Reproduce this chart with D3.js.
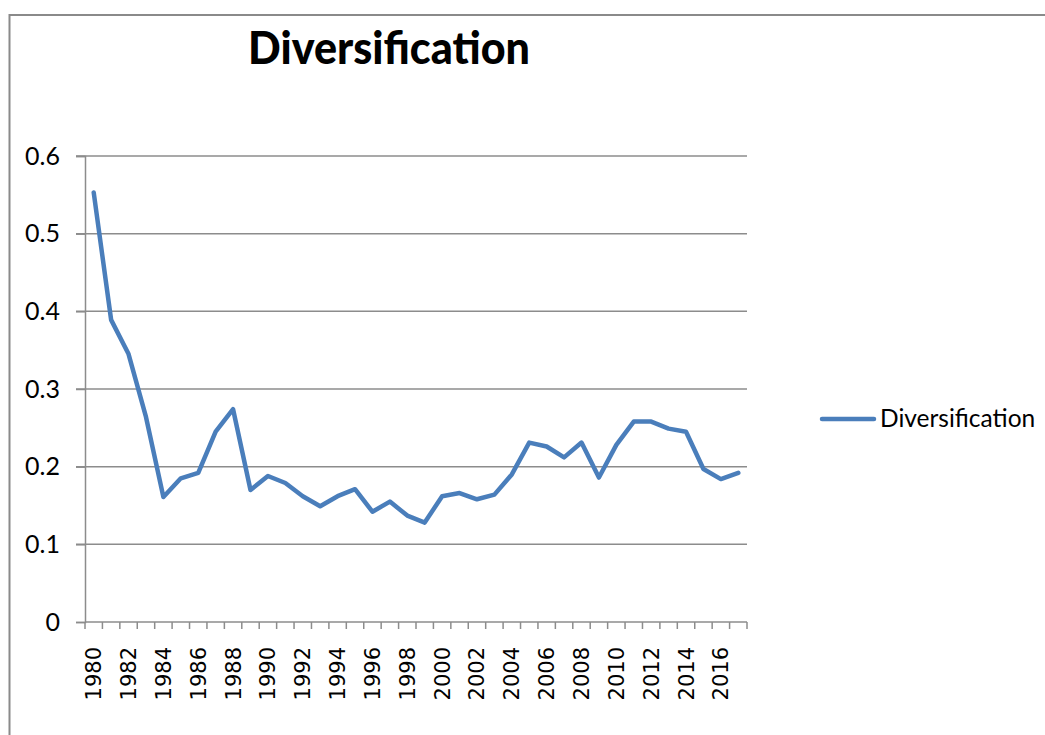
<!DOCTYPE html>
<html>
<head>
<meta charset="utf-8">
<script src="https://cdn.jsdelivr.net/npm/d3@7"></script>
<style>
  body { margin: 0; background: #fff; }
</style>
</head>
<body>
<svg id="chartSvg" width="1045" height="735"></svg>
<script>
const chartSvg = d3.select("#chartSvg");

// data
const years = d3.range(1980, 2018);
const diversification = [0.553, 0.389, 0.345, 0.264, 0.161, 0.185, 0.192, 0.245, 0.274, 0.170,
                         0.188, 0.179, 0.162, 0.149, 0.162, 0.171, 0.142, 0.155, 0.137, 0.128,
                         0.162, 0.166, 0.158, 0.164, 0.190, 0.231, 0.226, 0.212, 0.231, 0.186,
                         0.228, 0.258, 0.258, 0.249, 0.245, 0.197, 0.184, 0.192];
const yTicks = [0, 0.1, 0.2, 0.3, 0.4, 0.5, 0.6];
const seriesName = "Diversification";
const chartTitle = "Diversification";

let plotLeft = 85, plotRight = 747, plotTop = 156, plotBottom = 622;
let gridColor = "#8c8c8c";
let lineColor = "#4a7ebb";

// outer frame (only top and left edges show)
chartSvg.append("rect")
  .attr("x", 9.5).attr("y", 15)
  .attr("width", 1100).attr("height", 800)
  .attr("fill", "none")
  .attr("stroke", "#8a8a8a")
  .attr("stroke-width", 2);

let xScale = d3.scaleBand().domain(years).range([plotLeft, plotRight]);
let yScale = d3.scaleLinear().domain([0, 0.6]).range([plotBottom, plotTop]);

// horizontal gridlines
chartSvg.selectAll(".grid")
  .data(yTicks.filter(function (d) { return d > 0; }))
  .enter().append("line")
  .attr("x1", plotLeft - 9).attr("x2", plotRight)
  .attr("y1", function (d) { return yScale(d); })
  .attr("y2", function (d) { return yScale(d); })
  .attr("stroke", gridColor)
  .attr("stroke-width", 1.5);

// y axis
let yAxis = chartSvg.append("g")
  .attr("transform", "translate(" + plotLeft + ",0)")
  .call(d3.axisLeft(yScale).tickValues(yTicks).tickSize(9).tickPadding(16)
        .tickFormat(function (d) { return d === 0 ? "0" : d3.format(".1f")(d); }));
yAxis.select(".domain").attr("stroke", gridColor).attr("stroke-width", 1.5);
yAxis.selectAll(".tick line").attr("stroke", gridColor).attr("stroke-width", 1.5);
yAxis.selectAll(".tick text")
  .attr("font-family", "Lato, sans-serif")
  .attr("font-size", 25)
  .attr("fill", "#000");

// x axis: ticks on band boundaries, labels every other year
let boundaries = years.map(function (d) { return xScale(d); }).concat([plotRight]);
let xAxisG = chartSvg.append("g");
xAxisG.append("line")
  .attr("x1", plotLeft).attr("x2", plotRight)
  .attr("y1", plotBottom).attr("y2", plotBottom)
  .attr("stroke", gridColor).attr("stroke-width", 1.5);
xAxisG.selectAll(".xtick")
  .data(boundaries)
  .enter().append("line")
  .attr("x1", function (d) { return d; }).attr("x2", function (d) { return d; })
  .attr("y1", plotBottom).attr("y2", plotBottom + 7)
  .attr("stroke", gridColor).attr("stroke-width", 1.5);
xAxisG.selectAll(".xlabel")
  .data(years.filter(function (d) { return d % 2 === 0; }))
  .enter().append("text")
  .attr("transform", function (d) {
    return "translate(" + (xScale(d) + xScale.bandwidth() / 2 + 7.5) + "," + 647 + ") rotate(-90)";
  })
  .attr("text-anchor", "end")
  .style("font-family", "'DejaVu Sans', sans-serif")
  .style("font-size", "21px")
  .attr("fill", "#000")
  .text(function (d) { return d; });

// series line
let line = d3.line()
  .x(function (d, i) { return xScale(years[i]) + xScale.bandwidth() / 2; })
  .y(function (d) { return yScale(d); });

chartSvg.append("path")
  .datum(diversification)
  .attr("d", line)
  .attr("fill", "none")
  .attr("stroke", lineColor)
  .attr("stroke-width", 4.5)
  .attr("stroke-linejoin", "round")
  .attr("stroke-linecap", "round");

// title
chartSvg.append("text")
  .attr("x", 389).attr("y", 64)
  .attr("text-anchor", "middle")
  .attr("font-family", "Lato, sans-serif")
  .attr("font-weight", 900)
  .attr("font-size", 45)
  .attr("textLength", 282)
  .attr("lengthAdjust", "spacingAndGlyphs")
  .attr("fill", "#000")
  .text(chartTitle);

// legend
chartSvg.append("line")
  .attr("x1", 822).attr("x2", 874)
  .attr("y1", 419).attr("y2", 419)
  .attr("stroke", lineColor)
  .attr("stroke-width", 4.5)
  .attr("stroke-linecap", "round");
chartSvg.append("text")
  .attr("x", 880).attr("y", 427)
  .attr("font-family", "Lato, sans-serif")
  .attr("font-size", 24.5)
  .attr("fill", "#000")
  .text(seriesName);
</script>
</body>
</html>
